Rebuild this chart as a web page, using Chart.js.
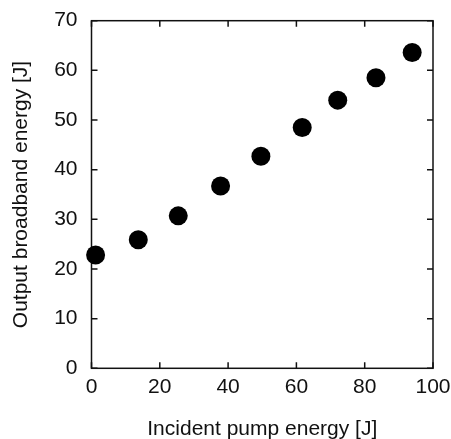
<!DOCTYPE html>
<html>
<head>
<meta charset="utf-8">
<script src="https://cdn.jsdelivr.net/npm/chart.js@4"></script>
<style>
  body { margin: 0; background: #fff; }
  #wrap { width: 451px; height: 439px; }
</style>
</head>
<body>
<div id="wrap"><canvas id="scatter" width="451" height="439"></canvas></div>
<script>
/// data ///
const pumpEnergy = [1.2, 13.7, 25.4, 37.8, 49.6, 61.7, 72.1, 83.3, 93.9];
const outputEnergy = [22.8, 25.9, 30.7, 36.7, 42.7, 48.5, 54.0, 58.5, 63.6];
const xTicks = [0, 20, 40, 60, 80, 100];
const yTicks = [0, 10, 20, 30, 40, 50, 60, 70];

const ink = '#111111';
const font = { family: "'Liberation Sans', Arial, sans-serif", size: 21 };

// box round the plot with short ticks pointing inwards on all four sides
const frameTicks = {
  id: 'frameTicks',
  beforeDatasetsDraw(chart) {
    const { ctx, chartArea: a, scales } = chart;
    const tl = 6;
    ctx.save();
    ctx.strokeStyle = ink;
    ctx.lineWidth = 1.5;
    ctx.strokeRect(a.left, a.top, a.right - a.left, a.bottom - a.top);
    ctx.beginPath();
    scales.x.ticks.forEach(t => {
      const px = scales.x.getPixelForValue(t.value);
      ctx.moveTo(px, a.bottom); ctx.lineTo(px, a.bottom - tl);
      ctx.moveTo(px, a.top); ctx.lineTo(px, a.top + tl);
    });
    scales.y.ticks.forEach(t => {
      const py = scales.y.getPixelForValue(t.value);
      ctx.moveTo(a.left, py); ctx.lineTo(a.left + tl, py);
      ctx.moveTo(a.right, py); ctx.lineTo(a.right - tl, py);
    });
    ctx.stroke();
    ctx.restore();
  }
};

// keep label overhang from pushing the plot area around
function noOverhang(s) {
  s.paddingTop = 0;
  s.paddingBottom = 0;
  s.paddingLeft = 0;
  s.paddingRight = 0;
}

const points = pumpEnergy.map((v, i) => ({ x: v, y: outputEnergy[i] }));

const ctx = document.getElementById('scatter').getContext('2d');
new Chart(ctx, {
  type: 'scatter',
  data: {
    datasets: [{
      data: points,
      backgroundColor: '#000',
      borderWidth: 0,
      pointRadius: 9.5,
      pointHoverRadius: 9.5,
      clip: false
    }]
  },
  options: {
    responsive: false,
    animation: false,
    events: [],
    layout: { padding: { left: 0, top: 20.7, right: 18, bottom: 0 } },
    plugins: { legend: { display: false }, tooltip: { enabled: false } },
    scales: {
      x: {
        type: 'linear',
        min: 0,
        max: 100,
        afterBuildTicks: s => { s.ticks = xTicks.map(v => ({ value: v })); },
        afterFit: s => { s.height = 70.7; noOverhang(s); },
        grid: { display: false, drawTicks: false },
        border: { display: false },
        ticks: { color: ink, font: font, padding: 6, maxRotation: 0 },
        title: {
          display: true,
          text: 'Incident pump energy [J]',
          color: ink,
          font: { family: font.family, size: 21, lineHeight: 1 },
          padding: { top: 0, bottom: -1 }
        }
      },
      y: {
        type: 'linear',
        min: 0,
        max: 70,
        afterBuildTicks: s => { s.ticks = yTicks.map(v => ({ value: v })); },
        afterFit: s => { s.width = 91.5; noOverhang(s); },
        grid: { display: false, drawTicks: false },
        border: { display: false },
        ticks: { color: ink, font: font, padding: 14 },
        title: {
          display: true,
          text: 'Output broadband energy [J]',
          color: ink,
          font: { family: font.family, size: 21, lineHeight: 1 },
          padding: { top: 10.5, bottom: 0 }
        }
      }
    }
  },
  plugins: [frameTicks]
});
</script>
</body>
</html>
